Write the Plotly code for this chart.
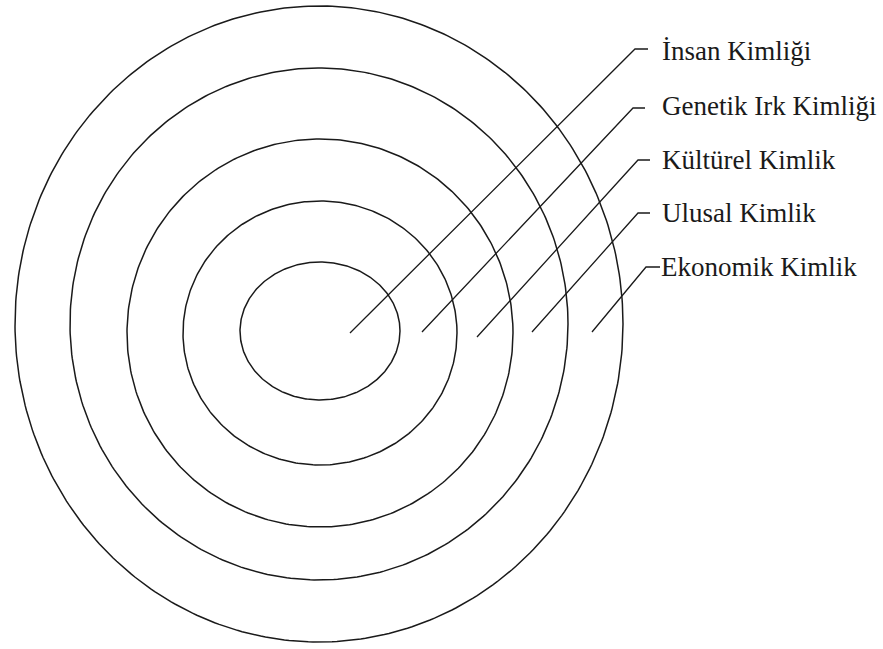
import numpy as np
import plotly.graph_objects as go

# Concentric identity rings (pixel-like coordinate space, y downward)
labels = ["İnsan Kimliği", "Genetik Irk Kimliği", "Kültürel Kimlik", "Ulusal Kimlik", "Ekonomik Kimlik"]
ring_cx = [319, 319, 320, 320, 320]
ring_cy = [324, 324, 333, 333, 331]
ring_rx = [304, 249, 193, 137, 80]
ring_ry = [318, 256, 194, 132, 69]

# Leader lines: start point inside ring, bend point, end point near label
lead_x0 = [350, 422, 477, 532, 592]
lead_y0 = [333, 332, 337, 332, 332]
lead_xb = [635, 633, 638, 638, 646]
lead_yb = [49, 108, 160, 213, 267]
lead_x1 = [648, 645, 650, 650, 660]
label_x = [660, 660, 660, 660, 659]
label_y = [51, 106, 160, 213, 267]

W, H = 883, 649
fig = go.Figure()

t = np.linspace(0, 2 * np.pi, 400)
for cx, cy, rx, ry in zip(ring_cx, ring_cy, ring_rx, ring_ry):
    fig.add_trace(go.Scatter(x=cx + rx * np.cos(t), y=cy + ry * np.sin(t), mode="lines",
                             line=dict(color="#1a1a1a", width=1.5), hoverinfo="skip", showlegend=False))

for i in range(len(labels)):
    fig.add_trace(go.Scatter(x=[lead_x0[i], lead_xb[i], lead_x1[i]], y=[lead_y0[i], lead_yb[i], lead_yb[i]],
                             mode="lines", line=dict(color="#1a1a1a", width=1.3),
                             hoverinfo="skip", showlegend=False))
    fig.add_annotation(x=label_x[i], y=label_y[i], text=labels[i], showarrow=False,
                       xanchor="left", yanchor="middle", xref="x", yref="y",
                       font=dict(family="Liberation Serif", size=27, color="#1a1a1a"))

fig.update_layout(width=W, height=H, margin=dict(l=0, r=0, t=0, b=0),
                  paper_bgcolor="white", plot_bgcolor="white", hovermode=False)
fig.update_xaxes(range=[0, W], visible=False)
fig.update_yaxes(range=[H, 0], visible=False)
fig.write_html("out.html", config={"displayModeBar": False, "staticPlot": True},
               post_script="document.body.style.margin='0';document.body.style.overflow='hidden';")
